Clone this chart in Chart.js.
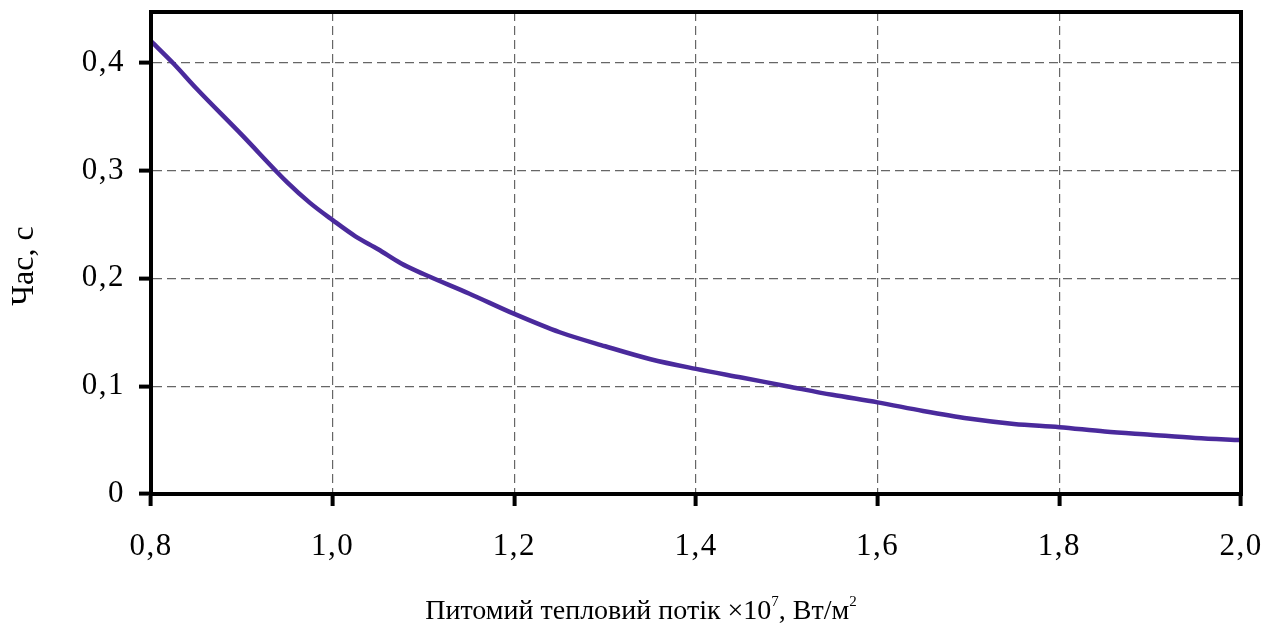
<!DOCTYPE html>
<html>
<head>
<meta charset="utf-8">
<style>
  html, body { margin: 0; padding: 0; background: #fff; }
  #wrap { width: 1280px; height: 626px; }
</style>
<script src="https://cdn.jsdelivr.net/npm/chart.js@4.4.1/dist/chart.umd.min.js"></script>
</head>
<body>
<div id="wrap"><canvas id="myChart" width="1280" height="626"></canvas></div>
<script>
// Питомий тепловий потік (×10^7 Вт/м²) і відповідний час, с
const flux = [0.80, 0.825, 0.85, 0.90, 0.95, 0.975, 1.00, 1.025, 1.05, 1.075, 1.10, 1.15,
              1.20, 1.25, 1.30, 1.35, 1.40, 1.45, 1.50, 1.55, 1.60, 1.65, 1.70, 1.75,
              1.80, 1.85, 1.90, 1.95, 2.00];
const time = [0.420, 0.399, 0.376, 0.333, 0.289, 0.270, 0.254, 0.239, 0.227, 0.214, 0.204, 0.186,
              0.167, 0.150, 0.137, 0.125, 0.116, 0.108, 0.100, 0.092, 0.085, 0.077, 0.070, 0.065,
              0.062, 0.058, 0.055, 0.052, 0.050];
const xTicks = [0.8, 1.0, 1.2, 1.4, 1.6, 1.8, 2.0];
const yTicks = [0, 0.1, 0.2, 0.3, 0.4];

const FONT = '"Liberation Serif", "Times New Roman", serif';
const fmt = v => (Math.abs(v) < 1e-9 ? '0' : v.toFixed(1).replace('.', ','));

// рамка навколо області графіка та підписи осей
const framePlugin = {
    id: 'frame',
    beforeDraw(chart) {
        // трохи розрідити цифри на осях
        chart.ctx.letterSpacing = '1.5px';
    },
    afterDatasetsDraw(chart) {
        const {ctx, chartArea: a} = chart;
        ctx.save();
        ctx.strokeStyle = '#000';
        ctx.lineWidth = 4;
        ctx.strokeRect(a.left, a.top, a.right - a.left, a.bottom - a.top);
        ctx.restore();
    },
    afterDraw(chart) {
        const ctx = chart.ctx;
        ctx.letterSpacing = '0px';
        ctx.save();
        ctx.fillStyle = '#000';
        ctx.textBaseline = 'alphabetic';

        // підпис осі X з показниками степеня
        const big = '28px ' + FONT, small = '15px ' + FONT;
        const parts = [
            ['Питомий тепловий потік ×10', big, 0],
            ['7', small, -13],
            [', Вт/м', big, 0],
            ['2', small, -13]
        ];
        let total = 0;
        parts.forEach(p => { ctx.font = p[1]; total += ctx.measureText(p[0]).width; });
        let x = 641 - total / 2;
        const base = 619;
        parts.forEach(p => {
            ctx.font = p[1];
            ctx.textAlign = 'left';
            ctx.fillText(p[0], x, base + p[2]);
            x += ctx.measureText(p[0]).width;
        });

        // підпис осі Y
        ctx.translate(33, 266);
        ctx.rotate(-Math.PI / 2);
        ctx.font = '32px ' + FONT;
        ctx.textAlign = 'center';
        ctx.fillText('Час, с', 0, 0);
        ctx.restore();
    }
};

const ctx = document.getElementById('myChart').getContext('2d');
new Chart(ctx, {
    type: 'line',
    data: {
        datasets: [{
            data: flux.map((f, i) => ({x: f, y: time[i]})),
            borderColor: '#4a2a9c',
            borderWidth: 4.5,
            pointRadius: 0,
            fill: false,
            cubicInterpolationMode: 'monotone'
        }]
    },
    options: {
        responsive: false,
        animation: false,
        layout: { padding: { top: 12, right: 39, left: 0, bottom: 0 } },
        plugins: {
            legend: { display: false },
            tooltip: { enabled: false }
        },
        scales: {
            x: {
                type: 'linear',
                min: 0.8,
                max: 2.0,
                afterFit: s => { s.height = 132; s.paddingLeft = 0; s.paddingRight = 0; },
                afterBuildTicks: s => { s.ticks = xTicks.map(v => ({value: v})); },
                ticks: {
                    padding: 22,
                    color: '#000',
                    font: { family: FONT, size: 31 },
                    callback: v => fmt(v),
                    maxRotation: 0
                },
                grid: {
                    color: '#666',
                    lineWidth: 1.2,
                    tickLength: 12,
                    tickWidth: 4,
                    tickColor: '#000'
                },
                border: { display: true, color: '#000', width: 4, dash: [9, 5] }
            },
            y: {
                min: 0,
                max: 0.447,
                afterFit: s => { s.width = 151; s.paddingTop = 0; s.paddingBottom = 0; },
                afterBuildTicks: s => { s.ticks = yTicks.map(v => ({value: v})); },
                ticks: {
                    padding: 14,
                    color: '#000',
                    font: { family: FONT, size: 31 },
                    callback: v => fmt(v)
                },
                grid: {
                    color: '#666',
                    lineWidth: 1.2,
                    tickLength: 12,
                    tickWidth: 4,
                    tickColor: '#000'
                },
                border: { display: true, color: '#000', width: 4, dash: [9, 5] }
            }
        }
    },
    plugins: [framePlugin]
});
</script>
</body>
</html>
